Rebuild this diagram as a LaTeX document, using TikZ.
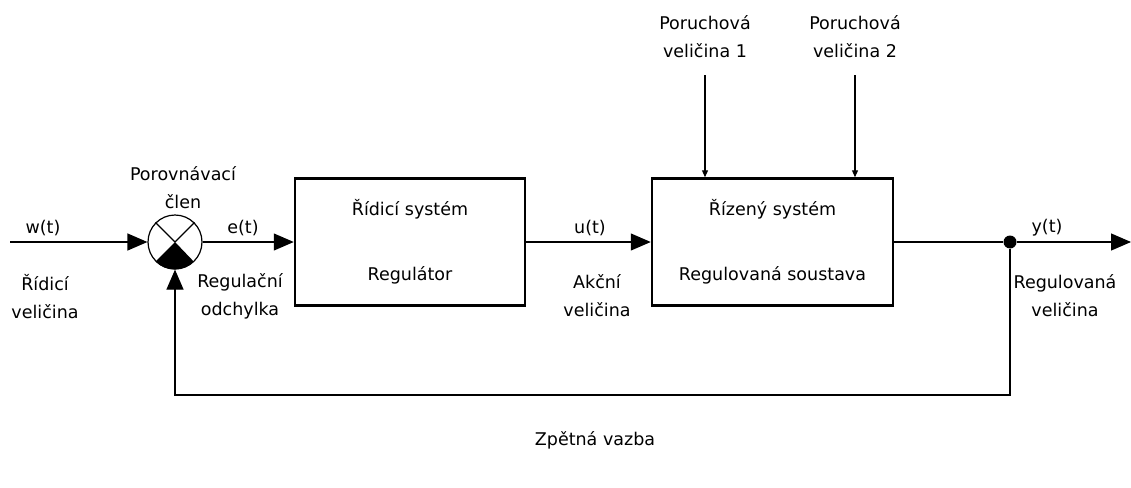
\documentclass[tikz,border=0pt]{standalone}
\usepackage{fontspec}
\setmainfont{DejaVu Sans}
\usetikzlibrary{arrows.meta, positioning}

\begin{document}
\begin{tikzpicture}[
    x=1pt, y=-1pt,
    font=\fontsize{17.5}{28}\selectfont,
    block/.style={rectangle, draw, line width=2.5pt, minimum height=127pt,
                  inner sep=0pt, align=center},
    lbl/.style={align=center, inner sep=0pt},
    line/.style={line width=1.2pt},
    arrow/.style={-{Triangle[length=20pt, width=17pt]}, line width=1.2pt},
    smallarrow/.style={-{Triangle[length=7pt, width=6pt]}, line width=1.2pt}
]
\useasboundingbox (0,0) rectangle (1131,487);

% Comparator
\node[circle, draw, line width=1.2pt, minimum size=54pt, inner sep=0pt] (sum) at (175,242) {};
\fill (sum.center) -- (sum.-135) arc[start angle=-135, end angle=-45, radius=27pt] -- cycle;
\draw[line] (sum.45) -- (sum.center) -- (sum.135);
\node[lbl] (sumlbl) at (183,188) {Porovnávací\\člen};

% Blocks
\node[block, minimum width=230pt] (regulator) at (410,242) {Řídicí systém\\[37pt]Regulátor};
\node[block, minimum width=241pt] (plant) at (772.5,242) {Řízený systém\\[37pt]Regulovaná soustava};

% Free ends
\coordinate (in) at (10,242);
\coordinate (out) at (1131,242);
\coordinate (fb) at (600,395);
\coordinate (d1) at (705,75);
\coordinate (d2) at (855,75);

% Branch point
\node[circle, fill, minimum size=13pt, inner sep=0pt] (branch) at (1010,242) {};

% Signals
\node[lbl] (w) at (43,228) {w(t)};
\node[lbl] (e) at (243,228) {e(t)};
\node[lbl] (u) at (590,228) {u(t)};
\node[lbl] (y) at (1047,228) {y(t)};
\node[lbl] (wlbl) at (45,297) {Řídicí\\veličina};
\node[lbl] (elbl) at (240,296) {Regulační\\odchylka};
\node[lbl] (ulbl) at (597,296) {Akční\\veličina};
\node[lbl] (ylbl) at (1065,296) {Regulovaná\\veličina};
\node[lbl] (dlbl1) at (705,37) {Poruchová\\veličina 1};
\node[lbl] (dlbl2) at (855,37) {Poruchová\\veličina 2};
\node[lbl] (fblbl) at (595,440) {Zpětná vazba};

% Connections
\draw[arrow] (in) -- (sum);
\draw[arrow] (sum) -- (regulator);
\draw[arrow] (regulator) -- (plant);
\draw[line] (plant) -- (branch);
\draw[arrow] (branch) -- (out);
\draw[arrow] (branch) -- (branch |- fb) -| (sum);
\draw[smallarrow] (d1) -- (d1 |- plant.north);
\draw[smallarrow] (d2) -- (d2 |- plant.north);

\end{tikzpicture}
\end{document}
